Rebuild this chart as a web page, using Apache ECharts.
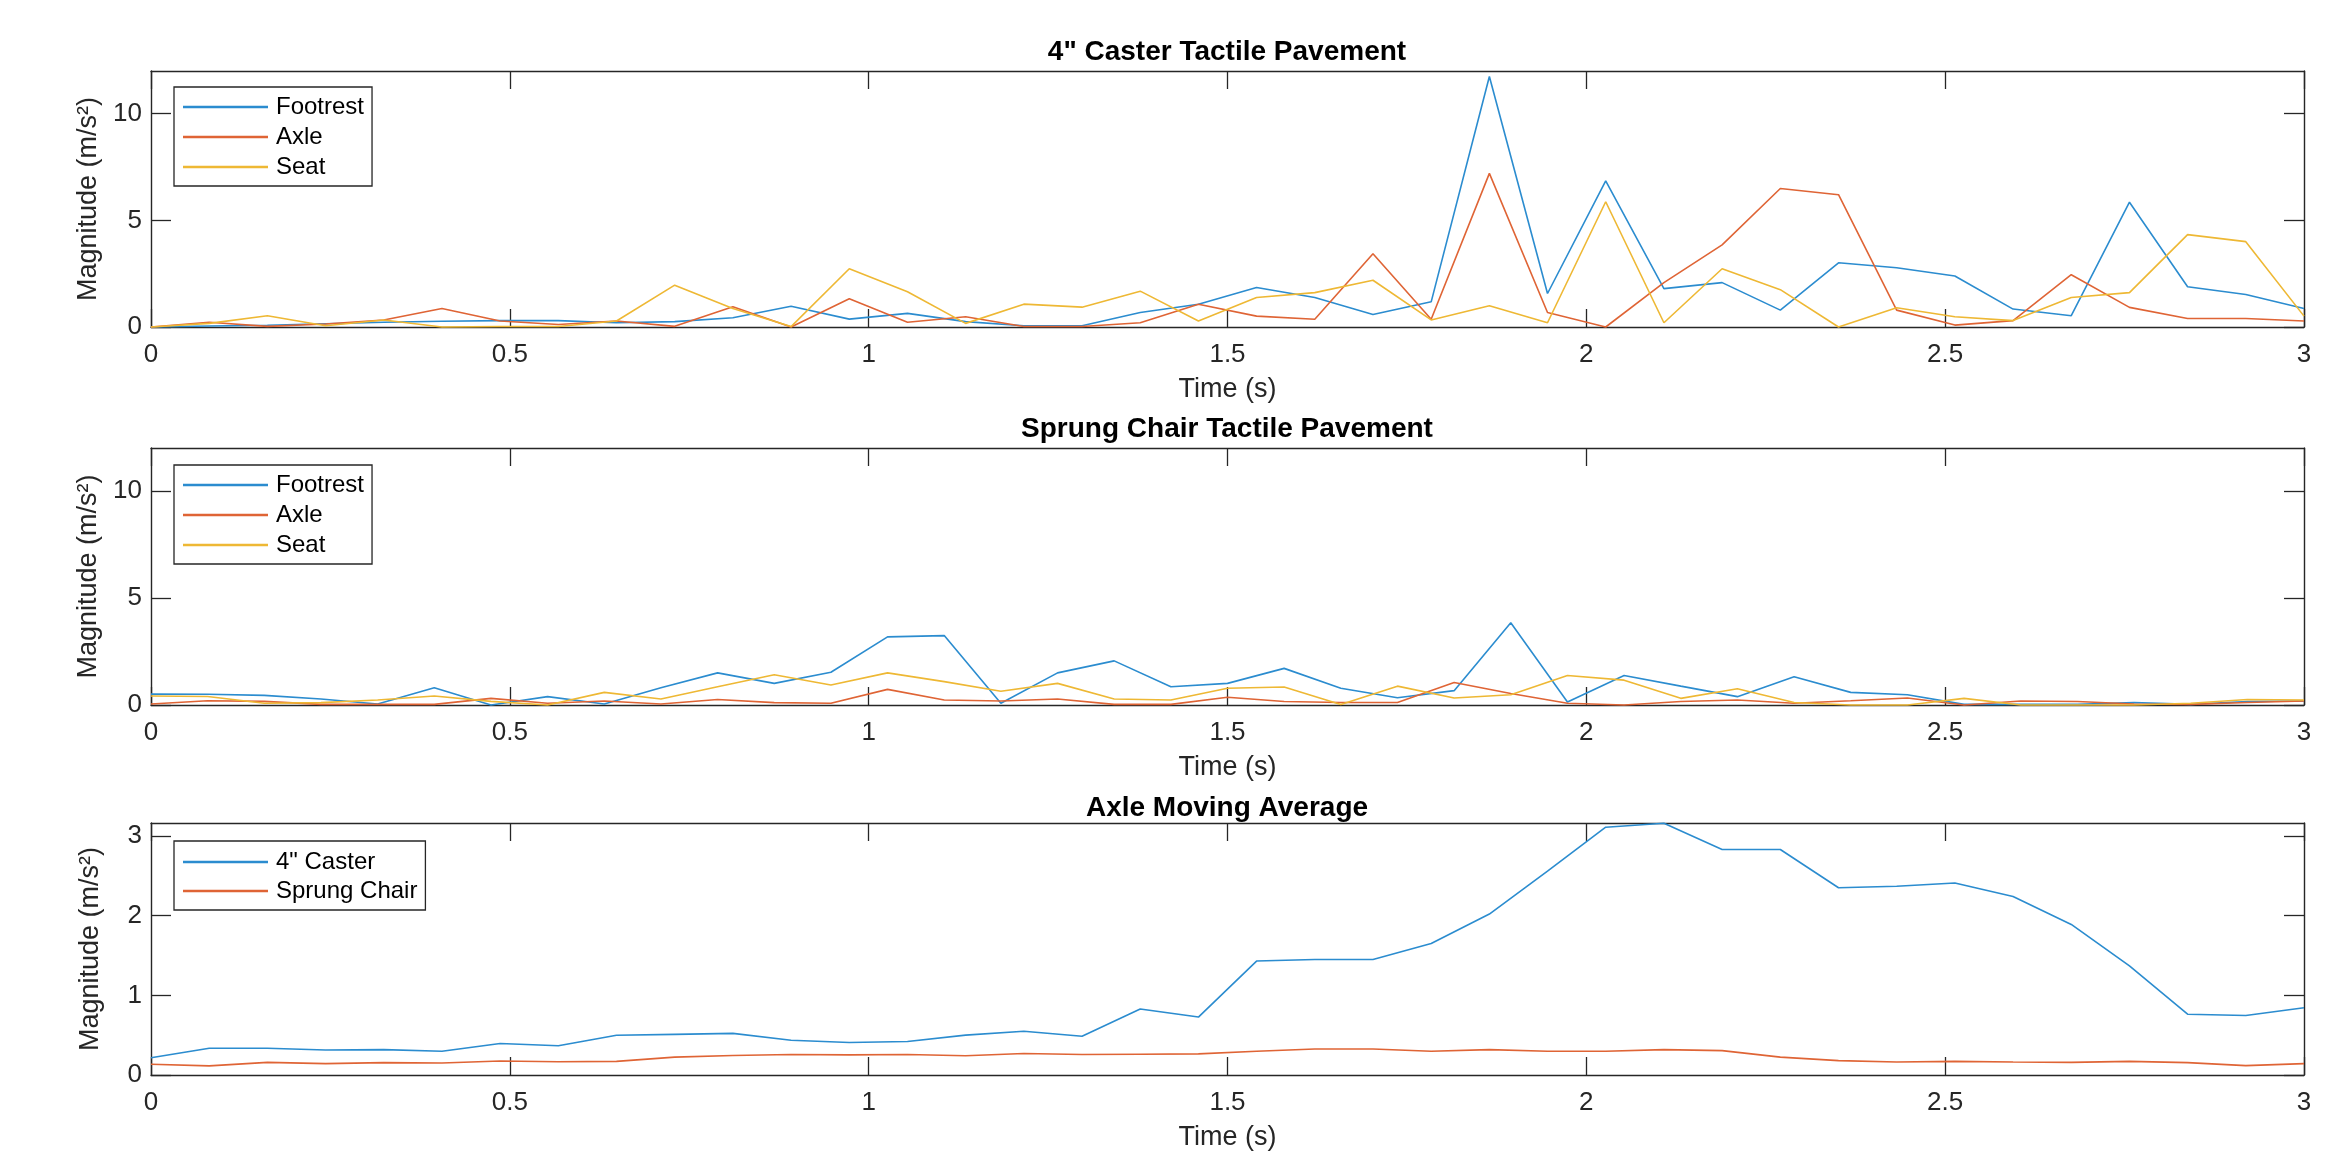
<!DOCTYPE html>
<html>
<head>
<meta charset="utf-8">
<script src="https://cdn.jsdelivr.net/npm/echarts@6/dist/echarts.min.js"></script>
<style>
html,body{margin:0;padding:0;background:#fff;}
#chart{width:2328px;height:1152px;}
</style>
</head>
<body>
<div id="chart"></div>
<script>
// ---- Data ----
const timeA = [0, 0.0811, 0.1622, 0.2432, 0.3243, 0.4054, 0.4865, 0.5676, 0.6486, 0.7297, 0.8108, 0.8919, 0.9730, 1.0541, 1.1351, 1.2162, 1.2973, 1.3784, 1.4595, 1.5405, 1.6216, 1.7027, 1.7838, 1.8649, 1.9459, 2.0270, 2.1081, 2.1892, 2.2703, 2.3514, 2.4324, 2.5135, 2.5946, 2.6757, 2.7568, 2.8378, 2.9189, 3.0];
const timeB = [0, 0.0789, 0.1579, 0.2368, 0.3158, 0.3947, 0.4737, 0.5526, 0.6316, 0.7105, 0.7895, 0.8684, 0.9474, 1.0263, 1.1053, 1.1842, 1.2632, 1.3421, 1.4211, 1.5, 1.5789, 1.6579, 1.7368, 1.8158, 1.8947, 1.9737, 2.0526, 2.1316, 2.2105, 2.2895, 2.3684, 2.4474, 2.5263, 2.6053, 2.6842, 2.7632, 2.8421, 2.9211, 3.0];

const casterFootrest = [0.0, 0.05, 0.08, 0.15, 0.22, 0.27, 0.3, 0.3, 0.2, 0.25, 0.43, 0.97, 0.37, 0.64, 0.25, 0.06, 0.06, 0.68, 1.07, 1.85, 1.38, 0.59, 1.18, 11.74, 1.57, 6.85, 1.80, 2.08, 0.79, 3.01, 2.78, 2.39, 0.84, 0.53, 5.85, 1.89, 1.52, 0.87];
const casterAxle = [0.0, 0.22, 0.03, 0.14, 0.33, 0.87, 0.28, 0.12, 0.28, 0.03, 0.95, 0.0, 1.32, 0.22, 0.48, 0.02, 0.02, 0.2, 1.07, 0.51, 0.36, 3.43, 0.36, 7.2, 0.68, 0.0, 2.08, 3.85, 6.49, 6.2, 0.79, 0.09, 0.3, 2.45, 0.92, 0.4, 0.4, 0.28];
const casterSeat = [0.0, 0.17, 0.53, 0.06, 0.33, 0.0, 0.02, 0.02, 0.28, 1.96, 0.87, 0.02, 2.73, 1.65, 0.17, 1.07, 0.93, 1.68, 0.28, 1.38, 1.61, 2.19, 0.33, 1.0, 0.2, 5.87, 0.2, 2.73, 1.75, 0.0, 0.9, 0.48, 0.3, 1.38, 1.61, 4.33, 4.0, 0.51];

const sprungFootrest = [0.51, 0.50, 0.45, 0.28, 0.05, 0.81, 0.0, 0.39, 0.05, 0.81, 1.50, 1.01, 1.53, 3.18, 3.24, 0.08, 1.50, 2.06, 0.85, 1.01, 1.71, 0.78, 0.34, 0.67, 3.84, 0.14, 1.38, 0.88, 0.39, 1.32, 0.59, 0.48, 0.03, 0.03, 0.03, 0.12, 0.03, 0.16, 0.19];
const sprungAxle = [0.05, 0.2, 0.17, 0.03, 0.03, 0.03, 0.31, 0.08, 0.19, 0.05, 0.26, 0.11, 0.08, 0.73, 0.23, 0.19, 0.28, 0.03, 0.03, 0.36, 0.16, 0.12, 0.12, 1.05, 0.54, 0.08, 0.0, 0.16, 0.23, 0.08, 0.2, 0.33, 0.0, 0.19, 0.16, 0.05, 0.03, 0.12, 0.19];
const sprungSeat = [0.42, 0.40, 0.08, 0.11, 0.23, 0.42, 0.17, 0.0, 0.59, 0.28, 0.85, 1.41, 0.93, 1.50, 1.09, 0.64, 1.01, 0.28, 0.23, 0.78, 0.84, 0.02, 0.88, 0.33, 0.48, 1.38, 1.16, 0.31, 0.76, 0.12, 0.0, 0.0, 0.31, 0.0, 0.0, 0.0, 0.08, 0.26, 0.23];

const avgCaster = [0.216, 0.335, 0.335, 0.314, 0.318, 0.298, 0.396, 0.367, 0.498, 0.51, 0.522, 0.437, 0.408, 0.42, 0.50, 0.55, 0.486, 0.829, 0.727, 1.43, 1.45, 1.45, 1.65, 2.02, 2.56, 3.11, 3.16, 2.83, 2.83, 2.35, 2.37, 2.41, 2.24, 1.89, 1.37, 0.763, 0.747, 0.845];
const avgSprung = [0.135, 0.114, 0.159, 0.143, 0.155, 0.151, 0.176, 0.167, 0.171, 0.224, 0.245, 0.257, 0.253, 0.257, 0.241, 0.269, 0.257, 0.261, 0.265, 0.298, 0.327, 0.327, 0.298, 0.318, 0.298, 0.298, 0.318, 0.306, 0.224, 0.18, 0.163, 0.171, 0.163, 0.159, 0.171, 0.155, 0.118, 0.143];

const titles = ['4" Caster Tactile Pavement', 'Sprung Chair Tactile Pavement', 'Axle Moving Average'];
const legendSensors = ['Footrest', 'Axle', 'Seat'];
const legendAvg = ['4" Caster', 'Sprung Chair'];
const xTicks = [0, 0.5, 1, 1.5, 2, 2.5, 3];
const yTicksBig = [0, 5, 10];
const yTicksAvg = [0, 1, 2, 3];
const xName = 'Time (s)';
const yName = 'Magnitude (m/s\u00B2)';

// ---- Style ----
const FONT = '"Liberation Sans", Arial, Helvetica, sans-serif';
const AX = '#262626';
const C1 = '#2b8ccf', C2 = '#df6435', C3 = '#EEB834';

const grids = [
  {left: 151, right: 24, top: 71, height: 256},
  {left: 151, right: 24, top: 448, height: 257},
  {left: 151, right: 24, top: 823, height: 259}
];
const yMax = [12, 12, 3.163];
const yTicks = [yTicksBig, yTicksBig, yTicksAvg];

const xAxes = [], yAxes = [];
grids.forEach((g, i) => {
  xAxes.push({
    gridIndex: i, type: 'value', position: 'bottom', min: 0, max: 3, interval: 0.5,
    axisLine: {show: true, onZero: false, lineStyle: {color: AX, width: 1.4}},
    axisTick: {show: true, inside: true, length: 18, customValues: xTicks, lineStyle: {color: AX, width: 1.3}},
    axisLabel: {show: true, margin: 15, customValues: xTicks, color: AX, fontSize: 26, fontFamily: FONT},
    splitLine: {show: false},
    name: xName, nameLocation: 'middle', nameGap: 49,
    nameTextStyle: {color: AX, fontSize: 27, fontFamily: FONT}
  });
  xAxes.push({
    gridIndex: i, type: 'value', position: 'top', min: 0, max: 3, interval: 0.5,
    axisLine: {show: true, onZero: false, lineStyle: {color: AX, width: 1.4}},
    axisTick: {show: true, inside: true, length: 18, customValues: xTicks, lineStyle: {color: AX, width: 1.3}},
    axisLabel: {show: false}, splitLine: {show: false}
  });
  yAxes.push({
    gridIndex: i, type: 'value', position: 'left', min: 0, max: yMax[i],
    axisLine: {show: true, onZero: false, lineStyle: {color: AX, width: 1.4}},
    axisTick: {show: true, inside: true, length: 20, customValues: yTicks[i], lineStyle: {color: AX, width: 1.3}},
    axisLabel: {show: true, margin: 9, customValues: yTicks[i], color: AX, fontSize: 26, fontFamily: FONT},
    splitLine: {show: false},
    name: yName, nameLocation: 'middle', nameGap: 47, nameRotate: 90,
    nameTextStyle: {color: AX, fontSize: 27, fontFamily: FONT}
  });
  yAxes.push({
    gridIndex: i, type: 'value', position: 'right', min: 0, max: yMax[i],
    axisLine: {show: true, onZero: false, lineStyle: {color: AX, width: 1.4}},
    axisTick: {show: true, inside: true, length: 20, customValues: yTicks[i], lineStyle: {color: AX, width: 1.3}},
    axisLabel: {show: false}, splitLine: {show: false}
  });
});

function line(name, times, vals, color, gi) {
  return {
    name: name, type: 'line', xAxisIndex: gi * 2, yAxisIndex: gi * 2,
    data: times.map((t, k) => [t, vals[k]]),
    symbol: 'none', showSymbol: false, clip: false,
    lineStyle: {color: color, width: 1.6}, itemStyle: {color: color},
    z: 3, animation: false
  };
}

const series = [
  line('Footrest', timeA, casterFootrest, C1, 0),
  line('Axle', timeA, casterAxle, C2, 0),
  line('Seat', timeA, casterSeat, C3, 0),
  line('Footrest', timeB, sprungFootrest, C1, 1),
  line('Axle', timeB, sprungAxle, C2, 1),
  line('Seat', timeB, sprungSeat, C3, 1),
  line(legendAvg[0], timeA, avgCaster, C1, 2),
  line(legendAvg[1], timeA, avgSprung, C2, 2)
];

function legend(top, data, pad, gap) {
  return {
    orient: 'vertical', left: 174, top: top, data: data,
    icon: 'rect', itemWidth: 85, itemHeight: 2.5, itemGap: gap, padding: pad,
    borderColor: AX, borderWidth: 1.3, backgroundColor: '#fff',
    selectedMode: false,
    textStyle: {color: '#000', fontSize: 24, lineHeight: 24, fontFamily: FONT, padding: [0, 0, 0, 3]}
  };
}

const titleY = [38, 415, 794];
const graphics = titles.map((t, i) => ({
  type: 'text', x: 1227, y: titleY[i], z: 10,
  style: {text: t, align: 'center', verticalAlign: 'top', fill: '#000',
          font: 'bold 28px ' + FONT}
}));

const chart = echarts.init(document.getElementById('chart'), null, {renderer: 'canvas'});
chart.setOption({
  animation: false,
  backgroundColor: '#fff',
  grid: grids,
  xAxis: xAxes,
  yAxis: yAxes,
  legend: [
    legend(87, legendSensors, [8, 8, 7, 9], 6),
    legend(465, legendSensors, [8, 8, 7, 9], 6),
    legend(841, legendAvg, [9, 8, 7, 9], 5)
  ],
  graphic: graphics,
  series: series
});
</script>
</body>
</html>
